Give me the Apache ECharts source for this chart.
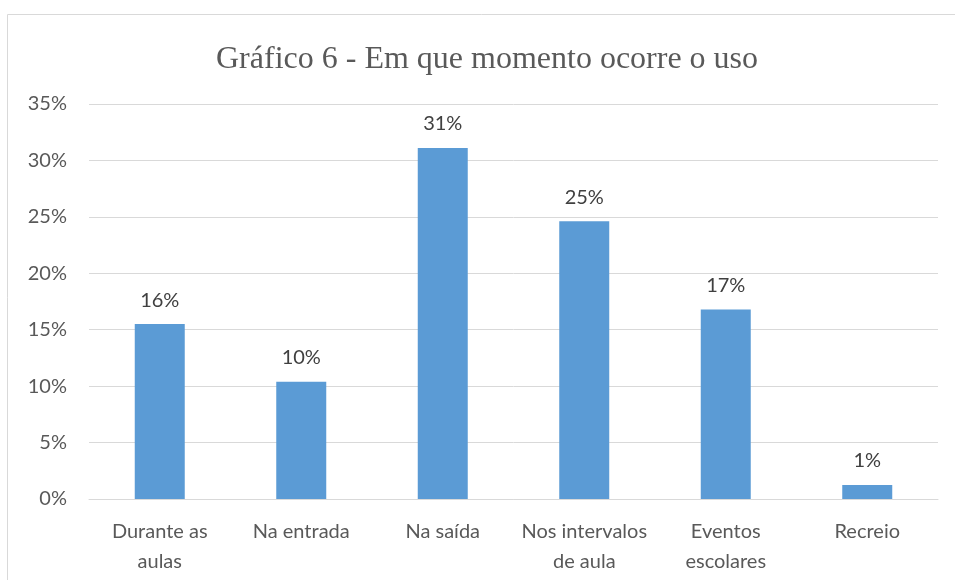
<!DOCTYPE html>
<html><head><meta charset="utf-8">
<script src="https://cdn.jsdelivr.net/npm/echarts@6/dist/echarts.min.js"></script>
<style>html,body{margin:0;padding:0;background:#fff}#c{width:955px;height:580px}</style>
</head><body><div id="c"></div>
<script>
var categories = ["Durante as\naulas", "Na entrada", "Na saída", "Nos intervalos\nde aula", "Eventos\nescolares", "Recreio"];
var values = [15.5, 10.4, 31.1, 24.6, 16.8, 1.25];
var dataLabels = ["16%", "10%", "31%", "25%", "17%", "1%"];
var yTicks = [0, 5, 10, 15, 20, 25, 30, 35];

var chart = echarts.init(document.getElementById('c'));
chart.setOption({
  animation: false,
  graphic: [{type: 'rect', shape: {x: 7.5, y: 14.5, width: 960, height: 580}, style: {fill: 'none', stroke: '#d9d9d9', lineWidth: 1}}],
  title: {text: 'Gráfico 6 - Em que momento ocorre o uso', left: 211, top: 39,
    textStyle: {fontFamily: 'Liberation Serif', fontSize: 32, fontWeight: 'normal', color: '#595959'}},
  grid: {left: 89, right: 17, top: 104, bottom: 81},
  xAxis: {type: 'category', data: categories,
    axisLine: {lineStyle: {color: '#d9d9d9', width: 1}}, axisTick: {show: false},
    axisLabel: {fontFamily: 'Lato', fontSize: 20, color: '#595959', lineHeight: 30, margin: 18, interval: 0}},
  yAxis: {type: 'value', min: 0, max: 35, interval: 5,
    axisLine: {show: false}, axisTick: {show: false},
    splitLine: {lineStyle: {color: '#d9d9d9', width: 1}},
    axisLabel: {fontFamily: 'Lato', fontSize: 20, color: '#595959', margin: 22, formatter: function(v){return v + '%';}}},
  series: [{type: 'bar', data: values, barWidth: 50,
    itemStyle: {color: '#5B9BD5'},
    label: {show: true, position: 'top', distance: 14, fontFamily: 'Lato', fontSize: 20, color: '#404040',
      formatter: function(p){return dataLabels[p.dataIndex];}}}]
});
</script></body></html>
